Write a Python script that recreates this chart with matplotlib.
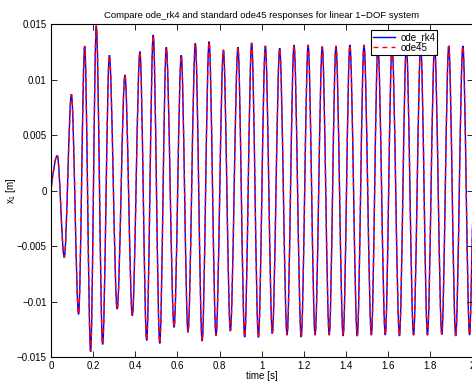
import numpy as np
import matplotlib.pyplot as plt
from matplotlib.path import Path
from matplotlib.patches import PathPatch
from matplotlib.lines import Line2D

plt.rcParams['font.family'] = ['Liberation Sans', 'DejaVu Sans']
plt.rcParams['mathtext.default'] = 'regular'

# turning points of x1 [m] over time [s]
t_turn = [0.000, 0.030, 0.063, 0.097, 0.131, 0.160, 0.188, 0.215, 0.245, 0.277,
          0.314, 0.351, 0.386, 0.422, 0.454, 0.485, 0.516, 0.547, 0.584, 0.618,
          0.650, 0.685, 0.717, 0.750, 0.783, 0.818, 0.851, 0.887, 0.919, 0.952,
          0.984, 1.017, 1.050, 1.085, 1.120, 1.153, 1.187, 1.220, 1.253, 1.287,
          1.320, 1.352, 1.386, 1.418, 1.453, 1.485, 1.520, 1.551, 1.586, 1.618,
          1.653, 1.686, 1.720, 1.754, 1.786, 1.820, 1.854, 1.887, 1.920, 1.954,
          1.986, 2.000]
x_rk4 = [0.0, 0.00316, -0.0060, 0.0087, -0.01115, 0.01306, -0.01452, 0.01489, -0.01386, 0.01222,
         -0.01067, 0.01044, -0.01127, 0.01255, -0.0135, 0.01405, -0.01377, 0.01294, -0.01232, 0.01222,
         -0.01277, 0.0133, -0.01356, 0.01345, -0.01308, 0.0127, -0.01265, 0.01294, -0.0132, 0.01333,
         -0.01323, 0.01306, -0.01287, 0.01285, -0.01302, 0.01315, -0.0132, 0.01315, -0.01302, 0.0130,
         -0.01302, 0.01306, -0.0131, 0.01315, -0.0131, 0.01315, -0.01302, 0.0131, -0.01302, 0.0131,
         -0.0131, 0.0131, -0.01302, 0.0131, -0.01302, 0.0131, -0.01296, 0.01306, -0.0131, 0.01306,
         -0.01302, -0.0030]
x_ode45 = list(x_rk4)

x_ticks = [0, 0.2, 0.4, 0.6, 0.8, 1.0, 1.2, 1.4, 1.6, 1.8, 2.0]
x_tick_labels = ['0', '0.2', '0.4', '0.6', '0.8', '1', '1.2', '1.4', '1.6', '1.8', '2']
y_ticks = [-0.015, -0.01, -0.005, 0, 0.005, 0.01, 0.015]
y_tick_labels = ['\u22120.015', '\u22120.01', '\u22120.005', '0', '0.005', '0.01', '0.015']


def smooth_path(t, x):
    # cubic segments between turning points, flat tangent at each peak/trough
    verts = [(t[0], x[0])]
    codes = [Path.MOVETO]
    n = len(t)
    for i in range(n - 1):
        dt = t[i + 1] - t[i]
        dx = x[i + 1] - x[i]
        c1 = x[i] if i > 0 else x[i] + dx * np.pi / 6
        c2 = x[i + 1] if i + 1 < n - 1 else x[i + 1] - dx / 3
        verts += [(t[i] + dt / 3, c1), (t[i + 1] - dt / 3, c2), (t[i + 1], x[i + 1])]
        codes += [Path.CURVE4] * 3
    return Path(verts, codes)


fig = plt.figure(figsize=(4.72, 3.81), dpi=100)
ax = fig.add_axes([0.108, 0.063, 0.8932, 0.8727])

ax.add_patch(PathPatch(smooth_path(t_turn, x_rk4), fill=False,
                       edgecolor='#0000ff', lw=1.0))
ax.add_patch(PathPatch(smooth_path(t_turn, x_ode45), fill=False,
                       edgecolor='#ff0000', lw=1.0, linestyle=(0, (3.5, 3)),
                       capstyle='butt'))

ax.set_xlim(0, 2)
ax.set_ylim(-0.015, 0.015)
ax.set_xticks(x_ticks)
ax.set_xticklabels(x_tick_labels)
ax.set_yticks(y_ticks)
ax.set_yticklabels(y_tick_labels)
ax.tick_params(direction='in', top=True, right=True, length=4, width=0.6,
               labelsize=7, pad=3)
for s in ax.spines.values():
    s.set_linewidth(0.8)

ax.set_title('Compare ode_rk4 and standard ode45 responses for linear 1\u2212DOF system',
             fontsize=6.8, pad=5)
ax.set_xlabel('time [s]', fontsize=7, labelpad=0)
ax.set_ylabel('$x_1$ [m]', fontsize=7, labelpad=-1)

handles = [Line2D([], [], color='#0000ff', lw=1.0),
           Line2D([], [], color='#ff0000', lw=1.0, linestyle=(0, (3.5, 3)))]
leg = ax.legend(handles, ['ode_rk4', 'ode45'], loc='upper right',
                bbox_to_anchor=(0.916, 0.983), borderaxespad=0, fontsize=7,
                fancybox=False, edgecolor='black', framealpha=1,
                handlelength=2.3, handletextpad=0.5, borderpad=0.2,
                labelspacing=0.05)
leg.get_frame().set_linewidth(0.8)

fig.savefig('out.png', dpi=100)
